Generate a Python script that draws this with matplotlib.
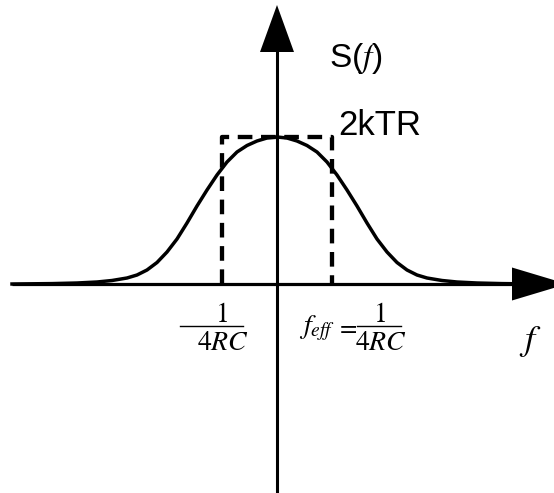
import matplotlib
matplotlib.use("Agg")
import matplotlib.pyplot as plt
import numpy as np
from matplotlib.patches import Polygon

plt.rcParams['font.family'] = ['Liberation Sans', 'DejaVu Sans']
plt.rcParams['mathtext.fontset'] = 'stix'

# half profile of the spectrum: offset from f=0 and height above the f axis
offset = np.array([0, 10, 20, 30, 40, 50, 60, 70, 80, 90, 100, 110, 120,
                   130, 140, 150, 165, 180, 200, 225, 265])
height = np.array([147, 146, 143, 138.5, 132, 122, 109, 94, 78, 61, 45, 32,
                   21.5, 14, 9, 6, 3.5, 2, 1, 0.4, 0])

# equivalent rectangular band (half width and level 2kTR)
f_eff = 55
level = 147

f = np.concatenate([-offset[::-1], offset[1:]])
S = np.concatenate([height[::-1], height[1:]])

fig = plt.figure(figsize=(5.54, 4.93), dpi=100)
ax = fig.add_axes([0, 0, 1, 1])
ax.set_xlim(-277, 277)
ax.set_ylim(-209, 284)
ax.axis('off')

# axes with arrow heads
ax.plot([-265, 237], [0, 0], color='k', lw=2.3, solid_capstyle='butt')
ax.add_patch(Polygon([[235, 16.5], [235, -16.5], [290, 0]], closed=True,
                     color='k', lw=0))
ax.plot([0, 0], [-212, 234], color='k', lw=2.2, solid_capstyle='butt')
ax.add_patch(Polygon([[-17, 232], [17, 232], [0, 279]], closed=True,
                     color='k', lw=0))

# spectrum curve
ax.plot(f, S, color='k', lw=2.5)

# dashed box
ax.plot([-f_eff, -f_eff, f_eff, f_eff], [0, level, level, 0], color='k',
        lw=3.1, linestyle=(0, (3.4, 2.0)), dash_capstyle='butt')

# labels
ax.text(52, 217, r'S($f$)', fontsize=24, ha='left', va='baseline')
ax.text(61, 149, '2kTR', fontsize=25, ha='left', va='baseline')

# left fraction
ax.text(-56, -38, r'$1$', fontsize=20, ha='center', va='baseline')
ax.plot([-97, -34], [-42, -42], color='k', lw=1.0)
ax.text(-54.5, -66, r'$4RC$', fontsize=20, ha='center', va='baseline')

# right fraction
ax.text(22, -49, r'$f_{eff}$', fontsize=20, ha='left', va='baseline')
ax.text(70, -43, r'$=$', fontsize=18, ha='center', va='center')
ax.text(102, -38, r'$1$', fontsize=20, ha='center', va='baseline')
ax.plot([80, 124], [-42, -42], color='k', lw=1.0)
ax.text(104, -66, r'$4RC$', fontsize=20, ha='center', va='baseline')

ax.text(253, -66, r'$f$', fontsize=26, ha='center', va='baseline')

fig.savefig('out.png', dpi=100, facecolor='white')
